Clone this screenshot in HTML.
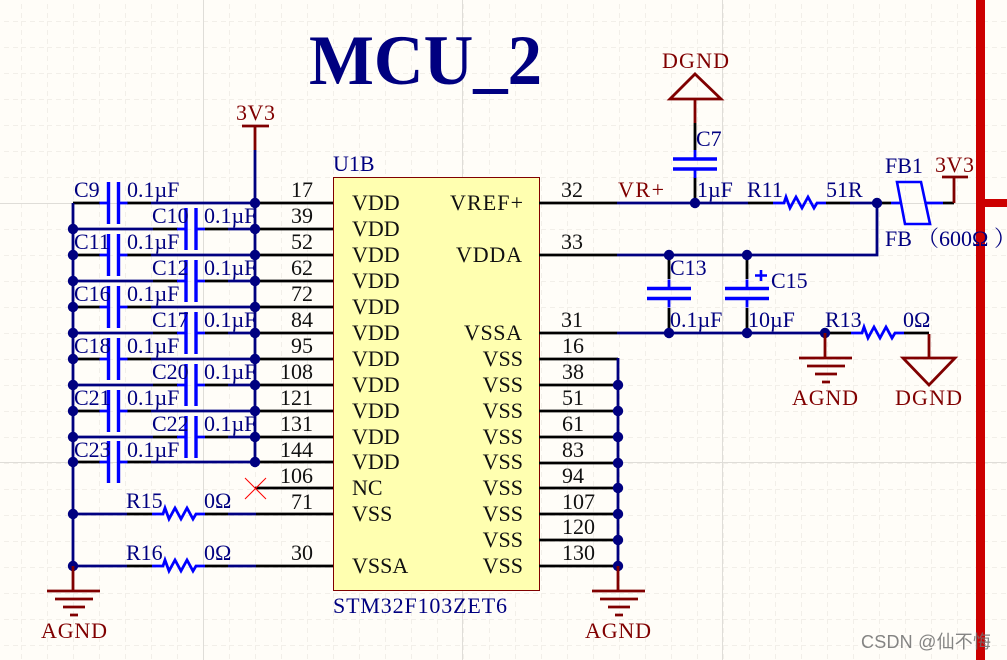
<!DOCTYPE html>
<html>
<head>
<meta charset="utf-8">
<style>
html,body{margin:0;padding:0;background:#fffdf8;width:1007px;height:660px;overflow:hidden}
svg{display:block}
text{font-family:"Liberation Serif","Noto Serif CJK SC",serif;font-size:22px}
.n{fill:#000080}
.k{fill:#111}
.r{fill:#800000}
.e{text-anchor:end}
.m{text-anchor:middle}
.bk{stroke:#000;stroke-width:2.8;fill:none}
.nv{stroke:#000080;stroke-width:2.8;fill:none}
.bl{stroke:#0000ff;stroke-width:2.8;fill:none}
.dr{stroke:#800000;stroke-width:2.8;fill:none}
</style>
</head>
<body>
<svg width="1007" height="660" viewBox="0 0 1007 660" xmlns="http://www.w3.org/2000/svg">
<defs>
<pattern id="g" x="21" y="21" width="26" height="26" patternUnits="userSpaceOnUse">
<path d="M0 .5H26M.5 0V26" stroke="#f2efe9" stroke-width="1" stroke-dasharray="5 4" fill="none"/>
</pattern>
<g id="capH">
<path d="M-14 0H-5M5 0H14" class="bl"/>
<path d="M-5 -21V21M5 -21V21" stroke="#0000ff" stroke-width="3.4" fill="none"/>
</g>
<g id="capV">
<path d="M0 -14V-5M0 5V14" class="bl"/>
<path d="M-22 -5H22M-22 5H22" stroke="#0000ff" stroke-width="3.4" fill="none"/>
</g>
<path id="res" class="bl" d="M0 0H11L13 -6L17 5L23 -6L29 5L35 -6L41 5L44 0H53"/>
<circle id="d" r="5.2" fill="#000080"/>
<g id="agnd">
<path class="dr" d="M0 0V25"/>
<path class="dr" d="M-26 25H27M-18 33H20M-10 41H12M-3 49H5"/>
</g>
</defs>
<rect width="1007" height="660" fill="#fffdf8"/>
<rect width="1007" height="660" fill="url(#g)"/>
<path d="M203.500 0V660M462.500 0V660M722.500 0V660M0 203.500H1007M0 462.500H1007" stroke="#dfddd8" stroke-width="1" fill="none"/>

<!-- frame -->
<rect x="976" y="0" width="9" height="660" fill="#cc0000"/>
<rect x="985" y="199" width="22" height="8" fill="#cc0000"/>

<!-- title -->
<text x="309" y="84" style="font-size:71px;font-weight:bold" class="n" textLength="233" lengthAdjust="spacingAndGlyphs">MCU_2</text>

<!-- chip -->
<rect x="333.500" y="177.500" width="206" height="413" fill="#ffffb0" stroke="#800000" stroke-width="1"/>
<text x="333" y="171" class="n">U1B</text>
<text x="333" y="613" class="n" textLength="174" style="font-size:22px">STM32F103ZET6</text>

<!-- left side black wires -->
<path class="bk" d="M73 203H100M127 203H151M255 203H333
M153 229H178M205 229H228M255 229H333
M73 255H100M127 255H151M255 255H333
M153 281H178M205 281H228M255 281H333
M73 307H100M127 307H151M255 307H333
M153 333H178M205 333H228M255 333H333
M73 359H100M127 359H151M255 359H333
M153 385H178M205 385H228M255 385H333
M73 411H100M127 411H151M255 411H333
M153 437H178M205 437H228M255 437H333
M73 462H100M127 462H151M255 462H333
M255 488H333
M127 514H152M205 514H228M256 514H333
M127 566H152M205 566H228M256 566H333"/>
<!-- left navy wires -->
<path class="nv" d="M73 203V566M255 150V462
M151 203H255M73 229H153M228 229H255
M151 255H255M73 281H153M228 281H255
M151 307H255M73 333H153M228 333H255
M151 359H255M73 385H153M228 385H255
M151 411H255M73 437H153M228 437H255
M151 462H255
M73 514H127M228 514H256M73 566H127M228 566H256"/>

<use href="#capH" x="113.500" y="203"/>
<use href="#capH" x="191" y="229"/>
<use href="#capH" x="113.500" y="255"/>
<use href="#capH" x="191" y="281"/>
<use href="#capH" x="113.500" y="307"/>
<use href="#capH" x="191" y="333"/>
<use href="#capH" x="113.500" y="359"/>
<use href="#capH" x="191" y="385"/>
<use href="#capH" x="113.500" y="411"/>
<use href="#capH" x="191" y="437"/>
<use href="#capH" x="113.500" y="462"/>
<use href="#res" x="152" y="514"/>
<use href="#res" x="152" y="566"/>

<!-- left dots -->
<use href="#d" x="73" y="229"/><use href="#d" x="73" y="255"/><use href="#d" x="73" y="281"/><use href="#d" x="73" y="307"/>
<use href="#d" x="73" y="333"/><use href="#d" x="73" y="359"/><use href="#d" x="73" y="385"/><use href="#d" x="73" y="411"/>
<use href="#d" x="73" y="437"/><use href="#d" x="73" y="462"/><use href="#d" x="73" y="514"/><use href="#d" x="73" y="566"/>
<use href="#d" x="255" y="203"/><use href="#d" x="255" y="229"/><use href="#d" x="255" y="255"/><use href="#d" x="255" y="281"/>
<use href="#d" x="255" y="307"/><use href="#d" x="255" y="333"/><use href="#d" x="255" y="359"/><use href="#d" x="255" y="385"/>
<use href="#d" x="255" y="411"/><use href="#d" x="255" y="437"/><use href="#d" x="255" y="462"/>

<!-- NC cross -->
<path d="M245 478L266 499M266 478L245 499" stroke="#ff0000" stroke-width="1" fill="none"/>

<!-- 3V3 top-left -->
<path class="dr" d="M255 126V150M242 126H269"/>
<text x="236" y="120" class="r" textLength="39">3V3</text>

<!-- AGND left -->
<use href="#agnd" x="73" y="566"/>
<text x="41" y="638" class="r" textLength="66">AGND</text>

<!-- left labels -->
<text x="74" y="197" class="n">C9</text><text x="127" y="197" class="n">0.1µF</text>
<text x="152" y="223" class="n">C10</text><text x="204" y="223" class="n">0.1µF</text>
<text x="74" y="249" class="n">C11</text><text x="127" y="249" class="n">0.1µF</text>
<text x="152" y="275" class="n">C12</text><text x="204" y="275" class="n">0.1µF</text>
<text x="74" y="301" class="n">C16</text><text x="127" y="301" class="n">0.1µF</text>
<text x="152" y="327" class="n">C17</text><text x="204" y="327" class="n">0.1µF</text>
<text x="74" y="353" class="n">C18</text><text x="127" y="353" class="n">0.1µF</text>
<text x="152" y="379" class="n">C20</text><text x="204" y="379" class="n">0.1µF</text>
<text x="74" y="405" class="n">C21</text><text x="127" y="405" class="n">0.1µF</text>
<text x="152" y="431" class="n">C22</text><text x="204" y="431" class="n">0.1µF</text>
<text x="74" y="457" class="n">C23</text><text x="127" y="457" class="n">0.1µF</text>
<text x="126" y="508" class="n">R15</text><text x="204" y="508" class="n">0Ω</text>
<text x="126" y="560" class="n">R16</text><text x="204" y="560" class="n">0Ω</text>

<!-- left pin numbers -->
<text x="313" y="197" class="k e">17</text>
<text x="313" y="223" class="k e">39</text>
<text x="313" y="249" class="k e">52</text>
<text x="313" y="275" class="k e">62</text>
<text x="313" y="301" class="k e">72</text>
<text x="313" y="327" class="k e">84</text>
<text x="313" y="353" class="k e">95</text>
<text x="313" y="379" class="k e">108</text>
<text x="313" y="405" class="k e">121</text>
<text x="313" y="431" class="k e">131</text>
<text x="313" y="457" class="k e">144</text>
<text x="313" y="483" class="k e">106</text>
<text x="313" y="509" class="k e">71</text>
<text x="313" y="560" class="k e">30</text>

<!-- chip left labels -->
<text x="352" y="210" class="k">VDD</text>
<text x="352" y="236" class="k">VDD</text>
<text x="352" y="262" class="k">VDD</text>
<text x="352" y="288" class="k">VDD</text>
<text x="352" y="314" class="k">VDD</text>
<text x="352" y="340" class="k">VDD</text>
<text x="352" y="366" class="k">VDD</text>
<text x="352" y="392" class="k">VDD</text>
<text x="352" y="418" class="k">VDD</text>
<text x="352" y="444" class="k">VDD</text>
<text x="352" y="469" class="k">VDD</text>
<text x="352" y="495" class="k">NC</text>
<text x="352" y="521" class="k">VSS</text>
<text x="352" y="573" class="k">VSSA</text>

<!-- chip right labels -->
<text x="450" y="210" class="k" textLength="73">VREF+</text>
<text x="456" y="262" class="k" textLength="66">VDDA</text>
<text x="464" y="340" class="k" textLength="58">VSSA</text>
<text x="523" y="366" class="k e">VSS</text>
<text x="523" y="392" class="k e">VSS</text>
<text x="523" y="418" class="k e">VSS</text>
<text x="523" y="444" class="k e">VSS</text>
<text x="523" y="469" class="k e">VSS</text>
<text x="523" y="495" class="k e">VSS</text>
<text x="523" y="521" class="k e">VSS</text>
<text x="523" y="547" class="k e">VSS</text>
<text x="523" y="573" class="k e">VSS</text>

<!-- right pin wires -->
<path class="bk" d="M539 203H617M539 255H617M539 333H617
M539 359H618M539 385H618M539 411H618M539 437H618M539 463H618M539 488H618M539 514H618M539 540H618M539 566H618"/>
<path class="nv" d="M618 358V566"/>
<use href="#d" x="618" y="385"/><use href="#d" x="618" y="411"/><use href="#d" x="618" y="437"/><use href="#d" x="618" y="463"/>
<use href="#d" x="618" y="488"/><use href="#d" x="618" y="514"/><use href="#d" x="618" y="540"/><use href="#d" x="618" y="566"/>
<use href="#agnd" x="618" y="566"/>
<text x="585" y="638" class="r" textLength="66">AGND</text>

<text x="561" y="197" class="k">32</text>
<text x="561" y="249" class="k">33</text>
<text x="561" y="327" class="k">31</text>
<text x="562" y="353" class="k">16</text>
<text x="562" y="379" class="k">38</text>
<text x="562" y="405" class="k">51</text>
<text x="562" y="431" class="k">61</text>
<text x="562" y="457" class="k">83</text>
<text x="562" y="483" class="k">94</text>
<text x="562" y="509" class="k">107</text>
<text x="562" y="534" class="k">120</text>
<text x="562" y="560" class="k">130</text>

<!-- top right network -->
<path class="bk" d="M695 123V150M695 177V203M748 203H773M826 203H850M877 203H891M943 203H954
M669 255V279M669 308V333M747 255V279M747 308V333M825 333H851M904 333H929"/>
<path class="nv" d="M617 203H748M850 203H877V255H617M617 333H825"/>
<path class="dr" d="M695 100V123M670 99H721L695 74Z"/>
<use href="#capV" x="695" y="164"/>
<use href="#d" x="695" y="203"/>
<use href="#res" x="773" y="203"/>
<use href="#d" x="877" y="203"/>
<path class="bl" d="M891 203H901M926 203H943"/>
<path d="M897 182H921L930 224H905Z" fill="none" stroke="#0000ff" stroke-width="2.6"/>
<path class="dr" d="M954 203V177M942 177H968"/>
<use href="#capV" x="669" y="293.500"/>
<use href="#capV" x="747" y="293.500"/>
<path d="M761 270V281M755 275.500H767" stroke="#0000ff" stroke-width="2.6" fill="none"/>
<use href="#d" x="669" y="255"/><use href="#d" x="747" y="255"/>
<use href="#d" x="669" y="333"/><use href="#d" x="747" y="333"/><use href="#d" x="825" y="333"/>
<use href="#res" x="851" y="333"/>
<use href="#agnd" x="825" y="333"/>
<path class="dr" d="M929 334V358M903 358H955L929 385Z"/>

<text x="662" y="68" class="r" textLength="67">DGND</text>
<text x="696" y="146" class="n">C7</text>
<text x="618" y="197" class="r" textLength="46">VR+</text>
<text x="697" y="197" class="n">1µF</text>
<text x="747" y="197" class="n">R11</text>
<text x="826" y="197" class="n">51R</text>
<text x="885" y="173" class="n">FB1</text>
<text x="935" y="172" class="r" textLength="39">3V3</text>
<text x="885" y="246" class="n">FB<tspan x="917">（</tspan><tspan x="939">600Ω</tspan><tspan x="994">）</tspan></text>
<text x="670" y="275" class="n">C13</text>
<text x="771" y="288" class="n">C15</text>
<text x="670" y="327" class="n">0.1µF</text>
<text x="748" y="327" class="n">10µF</text>
<text x="825" y="327" class="n">R13</text>
<text x="903" y="327" class="n">0Ω</text>
<text x="792" y="405" class="r" textLength="66">AGND</text>
<text x="895" y="405" class="r" textLength="67">DGND</text>

<!-- watermark -->
<text x="861" y="648" style="font-family:'Liberation Sans','Noto Sans CJK SC',sans-serif;font-size:18px" fill="#6e6e6e" fill-opacity="0.85" textLength="130">CSDN @仙不悔</text>
</svg>
</body>
</html>
